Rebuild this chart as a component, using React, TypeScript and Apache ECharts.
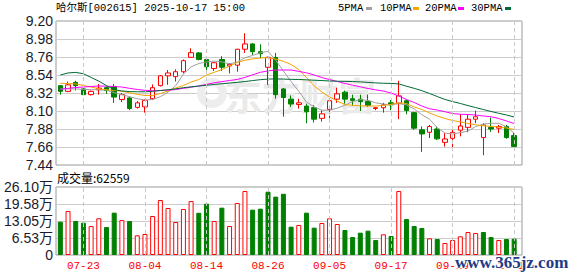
import React, { useEffect, useRef } from 'react';
import * as echarts from 'echarts';

const dates = ['07-18','07-21','07-22','07-23','07-24','07-25','07-28','07-29','07-30','07-31','08-01','08-04','08-05','08-06','08-07','08-08','08-11','08-12','08-13','08-14','08-15','08-18','08-19','08-20','08-21','08-22','08-25','08-26','08-27','08-28','08-29','09-01','09-02','09-03','09-04','09-05','09-08','09-09','09-10','09-11','09-12','09-15','09-16','09-17','09-18','09-19','09-22','09-23','09-24','09-25','09-26','09-29','09-30','10-09','10-10','10-13','10-14','10-15','10-16','10-17'];
const labelDates = ['07-23','08-04','08-14','08-26','09-05','09-17','09-29','10-17'];

const opens = [8.41,8.34,8.45,8.37,8.30,8.36,8.385,8.40,8.24,8.26, 8.145,8.15,8.25,8.41,8.53,8.52,8.58,8.756,8.81,8.73, 8.62,8.73,8.65,8.66,8.855,8.92,8.825,8.634,8.755,8.37, 8.245,8.18,8.16,8.14,8.01,8.12,8.245,8.33,8.25,8.245, 8.215,8.13,8.14,8.20,8.195,8.225,8.08,7.87,7.84,7.88, 7.717,7.766,7.865,7.90,8.00,7.775,7.90,7.89,7.91,7.80];
const closes = [8.34,8.42,8.41,8.30,8.34,8.38,8.35,8.27,8.30,8.13, 8.20,8.23,8.385,8.53,8.565,8.58,8.715,8.813,8.73,8.64, 8.69,8.635,8.67,8.855,8.92,8.825,8.80,8.756,8.30,8.265, 8.185,8.20,8.09,8.00,8.065,8.225,8.31,8.245,8.23,8.215, 8.17,8.14,8.175,8.175,8.285,8.105,7.89,7.82,7.91,7.76, 7.758,7.84,7.917,8.00,8.03,7.93,7.88,7.91,7.775,7.665];
const lows = [8.30,8.33,8.35,8.30,8.29,8.30,8.31,8.20,8.21,8.11, 8.13,8.08,8.235,8.40,8.42,8.46,8.56,8.75,8.72,8.56, 8.59,8.59,8.56,8.58,8.81,8.785,8.745,8.42,8.25,8.03, 8.15,8.13,7.95,7.96,7.97,8.01,8.20,8.19,8.165,8.10, 8.15,8.11,8.08,8.11,8.00,8.06,7.87,7.60,7.77,7.745, 7.665,7.635,7.79,7.84,7.95,7.56,7.845,7.83,7.76,7.665];
const highs = [8.41,8.46,8.47,8.39,8.35,8.43,8.40,8.43,8.32,8.275, 8.22,8.245,8.425,8.54,8.60,8.61,8.73,8.866,8.82,8.75, 8.70,8.77,8.685,8.86,9.05,8.93,8.915,8.765,8.81,8.38, 8.29,8.25,8.19,8.17,8.11,8.255,8.385,8.35,8.30,8.30, 8.30,8.15,8.20,8.235,8.47,8.24,8.09,7.91,7.93,7.91, 7.83,7.89,8.06,8.06,8.105,7.95,8.02,7.93,7.93,7.83];

const volumes = [127800,169000,130500,124000,111000,141000,107500,162500,134000,130500, 75500,80600,149700,211000,180400,126700,176500,207000,162000,197000, 130500,181700,111300,199600,245600,174000,177800,243000,224000,235000, 108700,115000,162500,104900,122800,140800,119000,96000,69000,85700, 93400,57600,79300,72900,245600,138000,111300,103600,64000,61400, 46000,57600,71700,88300,84400,88300,69000,57600,61400,62559];
const volUp = [0,1,0,0,1,1,0,0,1,0, 1,1,1,1,1,1,1,1,0,0, 1,0,1,1,1,0,0,0,0,0, 0,1,0,0,1,1,1,0,0,0, 0,0,1,0,1,0,0,0,1,0, 1,1,1,1,1,0,0,1,0,0];

const ma5 = [8.37,8.37,8.37,8.365,8.36,8.36,8.355,8.325,8.30,8.275, 8.25,8.235,8.24,8.275,8.33,8.41,8.55,8.64,8.68,8.70, 8.71,8.70,8.675,8.70,8.75,8.78,8.81,8.83,8.72,8.59, 8.46,8.34,8.21,8.15,8.11,8.11,8.135,8.17,8.215,8.24, 8.23,8.20,8.185,8.175,8.19,8.175,8.125,8.055,8.00,7.895, 7.83,7.82,7.835,7.855,7.91,7.94,7.95,7.95,7.905,7.83];
const ma10 = [8.439,8.435,8.431,8.412,8.393,8.371,8.36,8.352,8.342,8.322, 8.304,8.29,8.29,8.314,8.344,8.381,8.412,8.454,8.485,8.54, 8.573,8.607,8.65,8.693,8.721,8.737,8.748,8.751,8.735,8.707, 8.668,8.607,8.509,8.406,8.332,8.271,8.222,8.179,8.17,8.163, 8.161,8.161,8.167,8.182,8.201,8.192,8.149,8.118,8.076,8.039, 8.008,7.984,7.966,7.947,7.931,7.919,7.911,7.904,7.892,7.874];
const ma20 = [8.365,8.377,8.387,8.393,8.399,8.406,8.403,8.399,8.393,8.377, 8.363,8.353,8.348,8.351,8.354,8.362,8.377,8.391,8.406,8.425, 8.445,8.459,8.473,8.486,8.511,8.542,8.573,8.59,8.601,8.601, 8.601,8.584,8.567,8.54,8.509,8.484,8.461,8.436,8.415,8.396, 8.375,8.358,8.344,8.32,8.283,8.241,8.204,8.161,8.127,8.112, 8.091,8.069,8.06,8.057,8.051,8.039,8.03,8.008,7.978,7.947];
const ma30 = [8.54,8.565,8.572,8.555,8.51,8.465,8.41,8.36,8.345,8.337, 8.335,8.335,8.34,8.35,8.36,8.37,8.385,8.395,8.405,8.415, 8.424,8.433,8.442,8.45,8.46,8.472,8.483,8.49,8.492,8.49, 8.487,8.485,8.481,8.476,8.472,8.467,8.464,8.462,8.46,8.456, 8.45,8.443,8.439,8.437,8.431,8.403,8.377,8.348,8.314,8.277, 8.241,8.215,8.192,8.166,8.142,8.118,8.094,8.072,8.051,8.027];

const priceTicks = ['7.44','7.66','7.88','8.10','8.32','8.54','8.76','8.98','9.20'];
const priceMin = 7.44;
const priceMax = 9.20;
const volTicks = ['0','6.53万','13.05万','19.58万','26.10万'];
const volMax = 261000;

const title = '哈尔斯[002615] 2025-10-17 15:00';
const volTitle = '成交量:62559';
const legendNames = ['5PMA', '10PMA', '20PMA', '30PMA'];
const legendColors = ['#a0a0a0', '#f5a300', '#ff00ff', '#006a35'];

const RED = '#ff0000';
const GREEN = '#008000';
const MONO = '"Liberation Mono", "Noto Sans CJK SC", monospace';
const AXISFONT = '"Liberation Sans Narrow", "Liberation Sans", "Noto Sans CJK SC", sans-serif';

export default function App() {
  const ref = useRef<HTMLDivElement>(null);
  useEffect(() => {
    const chart = echarts.init(ref.current!, null, { renderer: 'svg' });
    const kData = dates.map((_, i) => [opens[i], closes[i], lows[i], highs[i]]);
    const volData = volumes.map((v, i) => ({
      value: v,
      itemStyle: volUp[i]
        ? { color: '#ffffff', borderColor: RED, borderWidth: 1 }
        : { color: GREEN, borderColor: GREEN, borderWidth: 1 },
    }));
    const vLines = {
      symbol: ['none', 'none'],
      silent: true,
      animation: false,
      label: { show: false },
      lineStyle: { color: '#c8c8c8', type: [4, 3], width: 1 },
      emphasis: { disabled: true },
      data: labelDates.map((d) => ({ xAxis: d })),
    };
    const legendX = [338, 380, 425, 471];
    const swatchX = [366, 413, 458, 505];
    const graphics: any[] = [
      { type: 'text', x: 56, y: 8, style: { text: title, fill: '#000', fontSize: 10.5, fontFamily: MONO, textVerticalAlign: 'middle' } },
      { type: 'text', x: 57, y: 177, style: { text: volTitle, fill: '#000', fontSize: 12, fontFamily: '"Noto Sans CJK SC", sans-serif', textVerticalAlign: 'middle' } },
      { type: 'ring', z: 1, shape: { cx: 212, cy: 93, r: 15, r0: 7 }, style: { fill: '#ededed' }, silent: true },
      { type: 'text', z: 1, x: 224, y: 93, silent: true, style: { text: '东方财富', fill: '#eaeaea', fontSize: 38, fontWeight: 'bold', fontFamily: '"Noto Sans CJK SC", sans-serif', textVerticalAlign: 'middle' } },
      { type: 'text', z: 100, x: 455, y: 262, silent: true, style: { text: 'www.365jz.com', fill: '#1f3c88', stroke: '#ffffff', lineWidth: 2, fontSize: 17, fontWeight: 'bold', fontFamily: '"Liberation Serif", serif', textVerticalAlign: 'middle' } },
    ];
    legendNames.forEach((n, k) => {
      graphics.push({ type: 'text', x: legendX[k], y: 8, style: { text: n, fill: '#000', fontSize: 10.5, fontFamily: MONO, textVerticalAlign: 'middle' } });
      graphics.push({ type: 'rect', shape: { x: swatchX[k], y: 7, width: 6, height: 3 }, style: { fill: legendColors[k] } });
    });
    const maSeries = [ma5, ma10, ma20, ma30].map((d, k) => ({
      name: legendNames[k],
      type: 'line',
      xAxisIndex: 1,
      yAxisIndex: 1,
      data: d,
      symbol: 'none',
      z: 4,
      silent: true,
      lineStyle: { color: legendColors[k], width: 1 },
    }));
    chart.setOption({
      animation: false,
      backgroundColor: '#ffffff',
      graphic: graphics,
      grid: [
        { left: 56, top: 21, width: 466, height: 144, show: true, borderColor: '#9a9a9a', borderWidth: 1, backgroundColor: 'transparent' },
        { left: 56.5, top: 21, width: 461.5, height: 144 },
        { left: 56, top: 187, width: 466, height: 68, show: true, borderColor: '#9a9a9a', borderWidth: 1, backgroundColor: 'transparent' },
        { left: 56.5, top: 187, width: 461.5, height: 68 },
      ],
      xAxis: [
        { type: 'value', gridIndex: 0, min: 0, max: 1, show: false },
        { type: 'category', gridIndex: 1, data: dates, boundaryGap: true, show: false },
        { type: 'value', gridIndex: 2, min: 0, max: 1, show: false },
        {
          type: 'category', gridIndex: 3, data: dates, boundaryGap: true,
          axisLine: { show: false }, axisTick: { show: false }, splitLine: { show: false },
          axisLabel: {
            interval: (_i: number, v: string) => labelDates.includes(v),
            color: RED, fontSize: 11, fontFamily: MONO, margin: 5,
          },
        },
      ],
      yAxis: [
        {
          type: 'value', gridIndex: 0, min: 0, max: 8, interval: 1,
          axisLine: { show: false }, axisTick: { show: false },
          splitLine: { show: true, lineStyle: { color: '#cccccc', width: 1 } },
          axisLabel: { formatter: (v: number) => priceTicks[Math.round(v)], color: '#1a1a2a', fontSize: 14, fontFamily: AXISFONT, margin: 3 },
        },
        { type: 'value', gridIndex: 1, min: priceMin, max: priceMax, show: false, splitLine: { show: false } },
        {
          type: 'value', gridIndex: 2, min: 0, max: 4, interval: 1,
          axisLine: { show: false }, axisTick: { show: false },
          splitLine: { show: true, lineStyle: { color: '#cccccc', width: 1 } },
          axisLabel: { formatter: (v: number) => volTicks[Math.round(v)], color: '#1a1a2a', fontSize: 14, fontFamily: AXISFONT, margin: 3 },
        },
        { type: 'value', gridIndex: 3, min: 0, max: volMax, show: false, splitLine: { show: false } },
      ],
      series: [
        {
          type: 'candlestick',
          xAxisIndex: 1,
          yAxisIndex: 1,
          data: kData,
          barWidth: 5,
          z: 3,
          silent: true,
          itemStyle: { color: '#ffffff', color0: GREEN, borderColor: RED, borderColor0: GREEN, borderWidth: 1 },
          markLine: vLines,
        },
        ...maSeries,
        {
          type: 'bar',
          xAxisIndex: 3,
          yAxisIndex: 3,
          data: volData,
          barWidth: 5,
          silent: true,
          markLine: vLines,
        },
      ],
    });
    return () => chart.dispose();
  }, []);
  return <div ref={ref} style={{ position: 'fixed', left: 0, top: 0, width: 578, height: 276 }} />;
}
